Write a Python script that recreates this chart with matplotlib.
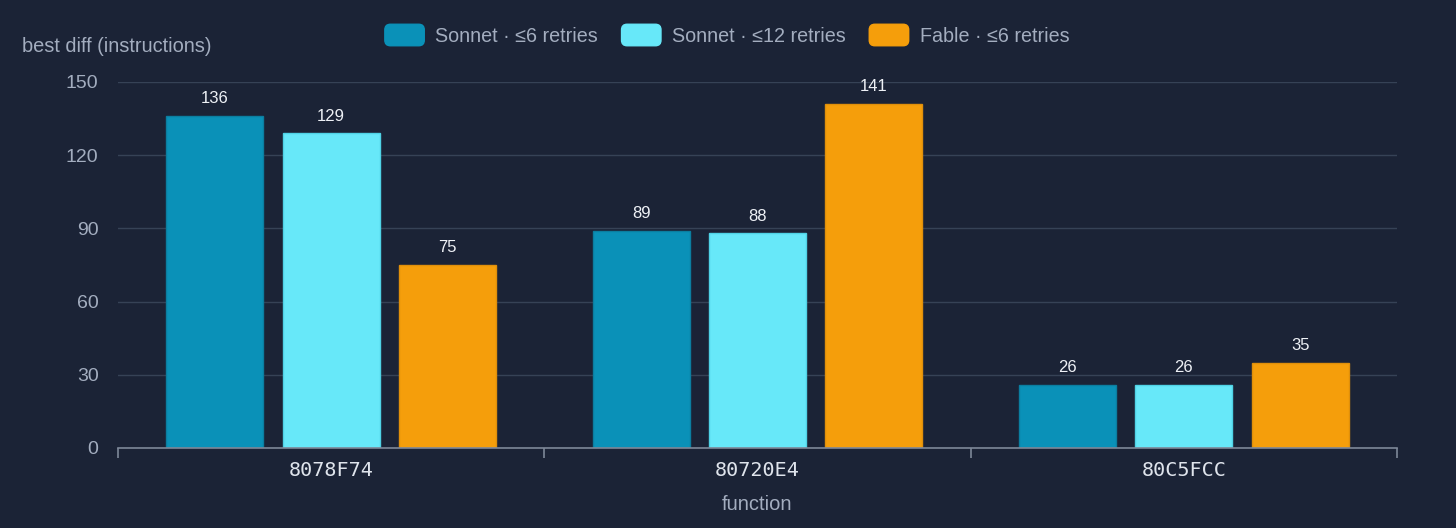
import matplotlib
matplotlib.use("Agg")
import matplotlib.pyplot as plt
from matplotlib.patches import FancyBboxPatch, Patch
from matplotlib.legend_handler import HandlerPatch
import numpy as np

functions = ["8078F74", "80720E4", "80C5FCC"]
series_names = ["Sonnet · ≤6 retries", "Sonnet · ≤12 retries", "Fable · ≤6 retries"]
sonnet6 = [136, 89, 26]
sonnet12 = [129, 88, 26]
fable6 = [75, 141, 35]
yticks = [0, 30, 60, 90, 120, 150]

colors = ["#0a91b8", "#67e8f9", "#f59e0b"]
edges = ["#0b7ea0", "#4fd3e6", "#e08f0a"]
bg = "#1b2336"
text_gray = "#a3adbf"
grid_c = "#364256"

plt.rcParams['font.family'] = ['Liberation Sans', 'DejaVu Sans']

fig = plt.figure(figsize=(14.56, 5.28), dpi=100, facecolor=bg)
ax = fig.add_axes([118/1456, 1-448/528, (1397-118)/1456, (448-82)/528])
ax.set_facecolor(bg)

x = np.arange(len(functions))
step = 0.273
width = 0.228
all_series = [sonnet6, sonnet12, fable6]
for i, vals in enumerate(all_series):
    pos = x + (i - 1) * step
    bars = ax.bar(pos, vals, width=width, color=colors[i], edgecolor=edges[i],
                  linewidth=1, label=series_names[i], zorder=3)
    for b, v in zip(bars, vals):
        ax.annotate(str(v), (b.get_x() + b.get_width()/2, v), xytext=(0, 7),
                    textcoords="offset points", ha="center", va="bottom",
                    color="#eef1f6", fontsize=12, zorder=4)

ax.set_xlim(-0.5, len(functions) - 0.5)
ax.set_ylim(0, 150)
ax.set_yticks(yticks)
ax.yaxis.grid(True, color=grid_c, linewidth=1, zorder=0)
ax.tick_params(axis='y', length=0, pad=14, labelcolor=text_gray, labelsize=14)
for s in ["top", "right", "left"]:
    ax.spines[s].set_visible(False)
ax.spines["bottom"].set_color("#7d8798")
ax.spines["bottom"].set_linewidth(1.2)
ax.spines["bottom"].set_zorder(5)

ax.set_xticks(np.arange(len(functions) + 1) - 0.5)
ax.set_xticklabels([])
ax.tick_params(axis='x', which='major', length=7, color="#7d8798", width=1.2)
ax.set_xticks(x, minor=True)
ax.set_xticklabels(functions, minor=True, fontfamily="DejaVu Sans Mono",
                   fontsize=14.5, color="#dfe4ec")
ax.tick_params(axis='x', which='minor', length=0, pad=9)

fig.text(757/1456, 1-504/528, "function", ha="center", va="center",
         color=text_gray, fontsize=14.5)
fig.text(22/1456, 1-46/528, "best diff (instructions)", ha="left", va="center",
         color=text_gray, fontsize=14.4)


class RoundHandler(HandlerPatch):
    def create_artists(self, legend, orig_handle, xdescent, ydescent, width, height, fontsize, trans):
        p = FancyBboxPatch((-xdescent, -ydescent), width, height,
                           boxstyle="round,pad=0,rounding_size=4",
                           facecolor=orig_handle.get_facecolor(),
                           edgecolor=orig_handle.get_facecolor(), transform=trans)
        return [p]


handles = [Patch(facecolor=c) for c in colors]
leg = fig.legend(handles, series_names, loc="center", bbox_to_anchor=(727/1456, 1-35/528),
                 ncol=3, frameon=False, fontsize=14.2, handlelength=2.0, handleheight=1.3,
                 handletextpad=0.55, columnspacing=1.2,
                 handler_map={Patch: RoundHandler()})
for t in leg.get_texts():
    t.set_color(text_gray)

fig.savefig("out.png", dpi=100, facecolor=bg)
